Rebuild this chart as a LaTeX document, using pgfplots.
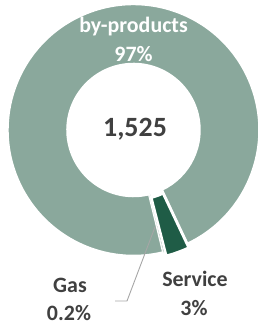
\documentclass[border=0pt]{standalone}
\usepackage{pgfplots}
\usepackage{pgfplotstable}
\pgfplotsset{compat=1.18}
\usetikzlibrary{calc}
\usepackage{fontspec}
\setmainfont{Carlito}
\definecolor{byp}{HTML}{8AA89C}
\definecolor{serv}{HTML}{1F5C46}
\definecolor{txt}{HTML}{404040}
\definecolor{lead}{HTML}{A6A6A6}
\pgfplotstableread{
label value
by-products 1476
Gas 3
Service 46
}\pietable
\newcommand{\sector}[6]{% cx cy a1 a2 color
  \fill[#5, draw=white, line width=#6]
    ($(axis cs:#1,#2)+(#3:126bp)$) arc[start angle=#3,end angle=#4,radius=126bp]
    -- ($(axis cs:#1,#2)+(#4:66bp)$) arc[start angle=#4,end angle=#3,radius=66bp] -- cycle;}
\begin{document}
\begin{tikzpicture}
\begin{axis}[width=258bp,height=329bp,scale only axis,
  xmin=0,xmax=258,ymin=0,ymax=329,hide axis,clip=true]
\pgfplotstablegetelem{0}{value}\of\pietable \let\va\pgfplotsretval
\pgfplotstablegetelem{1}{value}\of\pietable \let\vb\pgfplotsretval
\pgfplotstablegetelem{2}{value}\of\pietable \let\vc\pgfplotsretval
\pgfmathsetmacro{\tot}{\va+\vb+\vc}
\pgfmathsetmacro{\s}{-64.7}
\pgfmathsetmacro{\aA}{\s+\va/\tot*360}
\pgfmathsetmacro{\aB}{\aA+\vb/\tot*360}
\pgfmathsetmacro{\aC}{\aB+\vc/\tot*360}
\pgfmathsetmacro{\mC}{(\aB+\aC)/2}
\pgfmathsetmacro{\sx}{133.5+4*cos(\mC)}
\pgfmathsetmacro{\sy}{199+4*sin(\mC)}
\sector{133.5}{199}{\s}{\aA}{byp}{2.5bp}
\sector{133.5}{199}{\aA}{\aB}{byp}{0.5bp}
\sector{\sx}{\sy}{\aB}{\aC}{serv}{2.5bp}
\addplot[lead, line width=0.9bp, mark=none] coordinates {(155,102) (127,28) (115,28)};
\tikzset{lbl/.style={anchor=base, inner sep=0pt, font=\bfseries\fontsize{22}{22}\selectfont}}
\node[lbl, text=white] at (axis cs:133.5,296) {by-products};
\node[lbl, text=white] at (axis cs:133.5,267) {97\%};
\node[lbl, text=txt, font=\bfseries\fontsize{28}{28}\selectfont] at (axis cs:135,192) {1,525};
\node[lbl, text=txt] at (axis cs:195,42) {Service};
\node[lbl, text=txt] at (axis cs:194,14) {3\%};
\node[lbl, text=txt] at (axis cs:70,36) {Gas};
\node[lbl, text=txt] at (axis cs:69,9) {0.2\%};
\end{axis}
\pgfresetboundingbox
\path[use as bounding box] (0,0) rectangle (258bp,329bp);
\end{tikzpicture}
\end{document}
